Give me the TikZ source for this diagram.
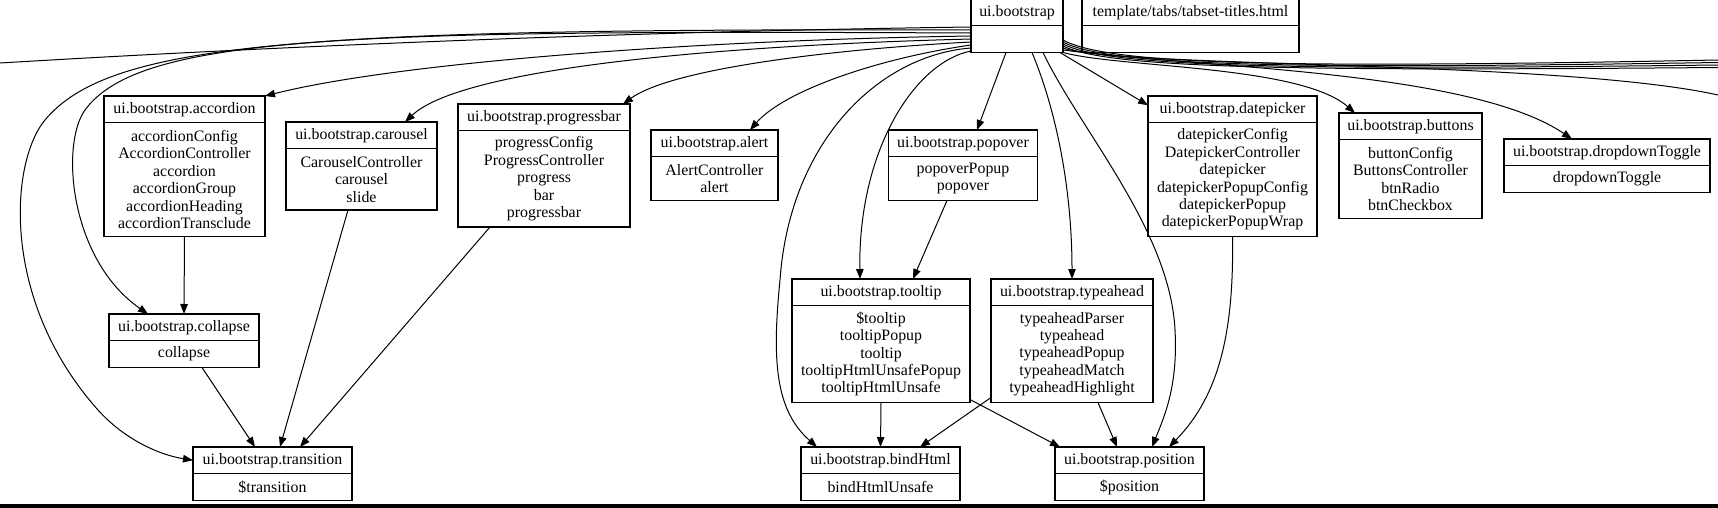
\documentclass[tikz,border=0pt]{standalone}
\usepackage{fontspec}
\setmainfont{Liberation Serif}
\usetikzlibrary{positioning, arrows.meta}

\begin{document}
\begin{tikzpicture}[x=1pt, y=-1pt,
        every node/.style={font=\fontsize{15.9}{17.4}\selectfont},
        modtitle/.style={rectangle, draw, line width=1.1pt, anchor=north, inner sep=0pt, outer sep=0pt, minimum width=#1, minimum height=26.5pt},
        modbody/.style 2 args={rectangle, draw, line width=1.1pt, align=center, inner xsep=2pt, inner ysep=0pt, outer sep=0pt, minimum width=#1, minimum height=#2},
        link/.style={line width=1pt},
        dep/.style={line width=1pt, -{Triangle[length=10pt, width=7.5pt]}}
    ]
    \useasboundingbox (0,0) rectangle (1718,508);

        % Nodes: top row
        \node[modtitle=92pt] (boot) at (1017,-1) {ui.bootstrap};
        \node[modbody={92pt}{27pt}, below = 0pt of boot] (boot-body) {};
        \node[modtitle=217pt] (tmpl) at (1190.5,-1) {template/tabs/tabset-titles.html};
        \node[modbody={217pt}{27pt}, below = 0pt of tmpl] (tmpl-body) {};

        % Nodes: modules
        \node[modtitle=161pt] (accordion) at (184.5,96) {ui.bootstrap.accordion};
        \node[modbody={161pt}{114pt}, below = 0pt of accordion] (accordion-body) {accordionConfig\\AccordionController\\accordion\\accordionGroup\\accordionHeading\\accordionTransclude};
        \node[modtitle=151pt] (carousel) at (361.5,122) {ui.bootstrap.carousel};
        \node[modbody={151pt}{61.5pt}, below = 0pt of carousel] (carousel-body) {CarouselController\\carousel\\slide};
        \node[modtitle=172pt] (progressbar) at (544,104) {ui.bootstrap.progressbar};
        \node[modbody={172pt}{96.5pt}, below = 0pt of progressbar] (progressbar-body) {progressConfig\\ProgressController\\progress\\bar\\progressbar};
        \node[modtitle=127pt] (alert) at (714.5,130) {ui.bootstrap.alert};
        \node[modbody={127pt}{44pt}, below = 0pt of alert] (alert-body) {AlertController\\alert};
        \node[modtitle=149pt] (popover) at (963,130) {ui.bootstrap.popover};
        \node[modbody={149pt}{44pt}, below = 0pt of popover] (popover-body) {popoverPopup\\popover};
        \node[modtitle=169pt] (datepicker) at (1232.5,96) {ui.bootstrap.datepicker};
        \node[modbody={169pt}{114pt}, below = 0pt of datepicker] (datepicker-body) {datepickerConfig\\DatepickerController\\datepicker\\datepickerPopupConfig\\datepickerPopup\\datepickerPopupWrap};
        \node[modtitle=143pt] (buttons) at (1410.5,113) {ui.bootstrap.buttons};
        \node[modbody={143pt}{79pt}, below = 0pt of buttons] (buttons-body) {buttonConfig\\ButtonsController\\btnRadio\\btnCheckbox};
        \node[modtitle=206pt] (dropdown) at (1607,139) {ui.bootstrap.dropdownToggle};
        \node[modbody={206pt}{27pt}, below = 0pt of dropdown] (dropdown-body) {dropdownToggle};

        % Nodes: middle row
        \node[modtitle=150pt] (collapse) at (184,314) {ui.bootstrap.collapse};
        \node[modbody={150pt}{27pt}, below = 0pt of collapse] (collapse-body) {collapse};
        \node[modtitle=178pt] (tooltip) at (881,279) {ui.bootstrap.tooltip};
        \node[modbody={178pt}{97pt}, below = 0pt of tooltip] (tooltip-body) {\$tooltip\\tooltipPopup\\tooltip\\tooltipHtmlUnsafePopup\\tooltipHtmlUnsafe};
        \node[modtitle=162pt] (typeahead) at (1072,279) {ui.bootstrap.typeahead};
        \node[modbody={162pt}{97pt}, below = 0pt of typeahead] (typeahead-body) {typeaheadParser\\typeahead\\typeaheadPopup\\typeaheadMatch\\typeaheadHighlight};

        % Nodes: bottom row
        \node[modtitle=159pt] (transition) at (272.5,447) {ui.bootstrap.transition};
        \node[modbody={159pt}{27pt}, below = 0pt of transition] (transition-body) {\$transition};
        \node[modtitle=159pt] (bindhtml) at (880.5,447) {ui.bootstrap.bindHtml};
        \node[modbody={159pt}{27pt}, below = 0pt of bindhtml] (bindhtml-body) {bindHtmlUnsafe};
        \node[modtitle=149pt] (position) at (1129.5,447) {ui.bootstrap.position};
        \node[modbody={149pt}{27pt}, below = 0pt of position] (position-body) {\$position};

        % Free ends beyond the frame
        \coordinate (offleft) at (0,63);
        \coordinate (offright1) at (1718,60);
        \coordinate (offright2) at (1718,62.5);
        \coordinate (offright3) at (1718,65);
        \coordinate (offright4) at (1718,67.5);
        \coordinate (offright5) at (1718,95);

        % Paths: ui.bootstrap to the left
        \draw[link] ([yshift=-1.5pt]boot-body.north west) .. controls (600,32) and (250,48) .. (offleft);
        \draw[dep] ([yshift=-4.5pt]boot-body.north west) .. controls (300,28) and (110,42) .. (45,120) .. controls (10,162) and (0,300) .. (98,410) .. controls (125,440) and (160,455) .. (transition.west);
        \draw[dep] ([yshift=-7.5pt]boot-body.north west) .. controls (350,30) and (140,35) .. (85,110) .. controls (60,145) and (70,260) .. ([xshift=-36pt]collapse.north);
        \draw[dep] ([yshift=-10.5pt]boot-body.north west) .. controls (700,40) and (400,62) .. (accordion.north east);
        \draw[dep] ([yshift=-13.5pt]boot-body.north west) .. controls (700,46) and (460,70) .. ([xshift=43.5pt]carousel.north);
        \draw[dep] ([yshift=-16.5pt]boot-body.north west) .. controls (820,50) and (670,70) .. ([xshift=79pt]progressbar.north);
        \draw[dep] ([yshift=-19.5pt]boot-body.north west) .. controls (880,58) and (785,90) .. ([xshift=35.5pt]alert.north);
        \draw[dep] ([yshift=-22.5pt]boot-body.north west) .. controls (880,55) and (790,140) .. (780,280) .. controls (772,360) and (775,410) .. ([xshift=-63.5pt]bindhtml.north);
        \draw[dep] ([yshift=-25.5pt]boot-body.north west) .. controls (915,62) and (858,150) .. ([xshift=-21pt]tooltip.north);

        % Paths: ui.bootstrap downwards
        \draw[dep] ([xshift=-11pt]boot-body.south) -- ([xshift=14pt]popover.north);
        \draw[dep] ([xshift=15pt]boot-body.south) .. controls (1060,120) and (1072,200) .. (typeahead.north);
        \draw[dep] ([xshift=26pt]boot-body.south) .. controls (1080,130) and (1170,230) .. (1175,330) .. controls (1178,385) and (1165,415) .. ([xshift=22.5pt]position.north);
        \draw[dep] ([xshift=-3pt]boot-body.south east) -- ([yshift=4pt]datepicker.west);

        % Paths: ui.bootstrap to the right
        \draw[link] ([yshift=-14.5pt]boot-body.north east) .. controls (1110,66) and (1300,68) .. (offright1);
        \draw[link] ([yshift=-16.5pt]boot-body.north east) .. controls (1110,67) and (1300,69) .. (offright2);
        \draw[link] ([yshift=-18.5pt]boot-body.north east) .. controls (1110,68) and (1300,70) .. (offright3);
        \draw[link] ([yshift=-20.5pt]boot-body.north east) .. controls (1110,69) and (1300,71) .. (offright4);
        \draw[link] ([yshift=-22.5pt]boot-body.north east) .. controls (1120,68) and (1560,60) .. (offright5);
        \draw[dep] ([yshift=-24.5pt]boot-body.north east) .. controls (1200,68) and (1470,70) .. ([xshift=-35pt]dropdown.north);
        \draw[dep] (boot-body.south east) .. controls (1120,68) and (1300,65) .. ([xshift=-55.5pt]buttons.north);

        % Paths: between modules
        \draw[dep] (accordion-body.south) -- (collapse.north);
        \draw[dep] ([xshift=18pt]collapse-body.south) -- ([xshift=-17.5pt]transition.north);
        \draw[dep] ([xshift=-13.5pt]carousel-body.south) -- ([xshift=7.5pt]transition.north);
        \draw[dep] ([xshift=-54pt]progressbar-body.south) -- ([xshift=27.5pt]transition.north);
        \draw[dep] ([xshift=-16pt]popover-body.south) -- ([xshift=32pt]tooltip.north);
        \draw[dep] (tooltip-body.south) -- (bindhtml.north);
        \draw[dep] ([yshift=3pt]tooltip-body.south east) -- ([xshift=-69.5pt]position.north);
        \draw[dep] ([yshift=5pt]typeahead-body.south west) -- ([xshift=39.5pt]bindhtml.north);
        \draw[dep] ([xshift=26pt]typeahead-body.south) -- ([xshift=-12.5pt]position.north);
        \draw[dep] (datepicker-body.south) .. controls (1234,330) and (1220,395) .. ([xshift=39.5pt]position.north);

        % Frame edge
        \fill (0,503.5) rectangle (1718,508);

\end{tikzpicture}
\end{document}
